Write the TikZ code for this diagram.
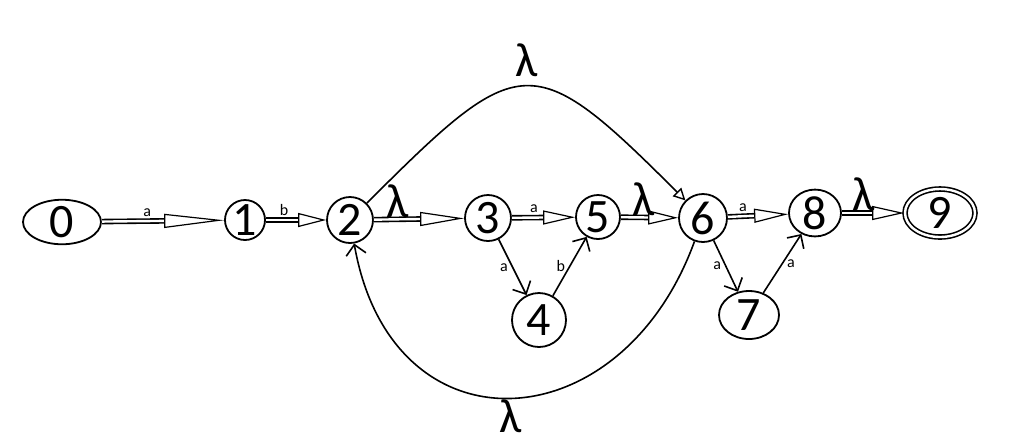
\documentclass[tikz,border=0pt]{standalone}
\usepackage{fontspec}
\setmainfont{Carlito}
\usetikzlibrary{arrows.meta, shapes.geometric}
\tikzset{
  st/.style   = {circle, draw, line width=0.9pt, minimum size=#1, inner sep=0pt,
                 font=\fontsize{24}{24}\selectfont},
  est/.style 2 args = {ellipse, draw, line width=0.9pt, minimum width=#1,
                 minimum height=#2, inner sep=0pt, font=\fontsize{24}{24}\selectfont},
  darr/.style = {double, double distance=1.2pt, line width=0.8pt,
                 -{Triangle[open, length=#1, width=7pt, line width=0.6pt]}},
  sarr/.style = {line width=0.8pt, -{Straight Barb[length=5pt, width=10pt, line width=0.8pt]}},
  tarr/.style = {line width=0.8pt, -{Triangle[open, length=6pt, width=6pt, line width=0.7pt]}},
  lbl/.style  = {font=\fontsize{8}{8}\selectfont, inner sep=2pt},
  lam/.style  = {font=\fontsize{24}{24}\selectfont, inner sep=0.5pt},
}

\begin{document}
\begin{tikzpicture}[x=0.5pt, y=-0.5pt]
  \useasboundingbox (0,0) rectangle (1024,447);

  % states
  \node[est={39pt}{21pt}] (q0) at (62,222)  {0};
  \node[st=20pt]          (q1) at (245,220) {1};
  \node[st=23pt]          (q2) at (350,220) {2};
  \node[st=23pt]          (q3) at (488,218) {3};
  \node[st=27pt]          (q4) at (539,320) {4};
  \node[st=22pt]          (q5) at (598,217) {5};
  \node[st=24pt]          (q6) at (703,218) {6};
  \node[est={30pt}{24pt}] (q7) at (749,315) {7};
  \node[est={26pt}{22pt}] (q8) at (815,213) {8};
  \node[est={35pt}{24pt}, double, double distance=1.2pt, line width=0.8pt] (q9) at (940,213) {9};

  % main line
  \draw[darr=30pt] (q0) -- node[lbl, above, pos=0.37] {a} (q1);
  \draw[darr=14pt] (q1) -- node[lbl, above, pos=0.3] {b} (q2);
  \draw[darr=22pt] (q2) -- node[lam, above, pos=0.26] {λ} (q3);
  \draw[darr=16pt] (q3) -- node[lbl, above, pos=0.35] {a} (q5);
  \draw[darr=15pt] (q5) -- node[lam, above, pos=0.4] {λ} (q6);
  \draw[darr=17pt] (q6) -- node[lbl, above, pos=0.25] {a} (q8);
  \draw[darr=16pt] (q8) -- node[lam, above, pos=0.35] {λ} (q9);

  % branches
  \draw[sarr] (q3) -- node[lbl, left] {a} (q4);
  \draw[sarr] (q4) -- node[lbl, left] {b} (q5);
  \draw[sarr] (q6) -- node[lbl, left] {a} (q7);
  \draw[sarr] (q7) -- node[lbl, right] {a} (q8);

  % loops
  \draw[tarr] (q2) to[out=45, in=135, looseness=1.74] node[lam, above, yshift=4pt] {λ} (q6);
  \draw[sarr] (q6) to[out=250, in=-80, looseness=1.62] node[lam, below] {λ} (q2);

\end{tikzpicture}
\end{document}
